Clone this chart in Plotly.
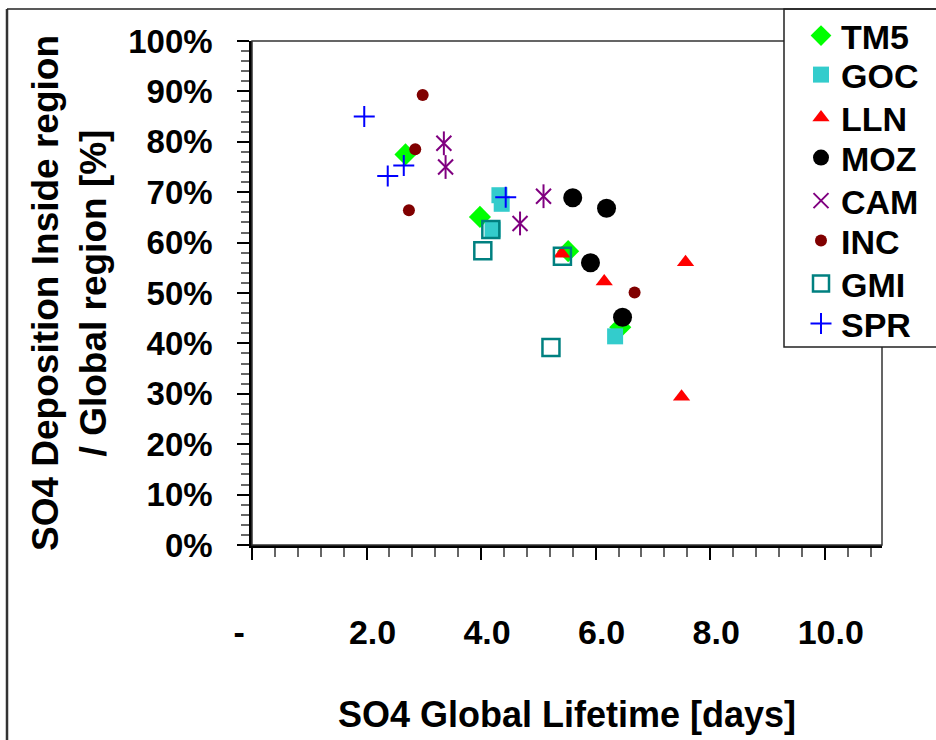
import plotly.graph_objects as go

# Model results: global SO4 lifetime [days] vs share of deposition inside the source region
series = ["TM5", "GOC", "LLN", "MOZ", "CAM", "INC", "GMI", "SPR"]

tm5_x = [2.68, 3.98, 5.52, 6.43]
tm5_y = [0.775, 0.651, 0.583, 0.432]
goc_x = [4.32, 4.36, 4.20, 6.34]
goc_y = [0.694, 0.677, 0.626, 0.414]
lln_x = [5.41, 6.15, 7.57, 7.50]
lln_y = [0.578, 0.523, 0.561, 0.294]
moz_x = [5.60, 6.19, 5.91, 6.47]
moz_y = [0.689, 0.668, 0.560, 0.452]
cam_x = [3.35, 3.38, 5.09, 4.68]
cam_y = [0.797, 0.750, 0.692, 0.638]
inc_x = [2.98, 2.85, 2.74, 6.68]
inc_y = [0.893, 0.785, 0.664, 0.501]
gmi_x = [4.17, 4.03, 5.42, 5.22]
gmi_y = [0.626, 0.584, 0.573, 0.392]
spr_x = [1.96, 2.65, 2.37, 4.43]
spr_y = [0.850, 0.753, 0.732, 0.690]

x_tickvals = [0, 2, 4, 6, 8, 10]
x_ticktext = ["-\u00a0\u00a0\u00a0\u00a0", "2.0", "4.0", "6.0", "8.0", "10.0"]

FONT = "Liberation Sans, Arial, sans-serif"

# figure geometry in pixels
W, H = 936, 740
PL, PR, PT, PB = 252, 882, 41, 545

# vertical centre (px) of each legend row
legend_rows = [36, 75, 118, 158, 201, 241, 284, 324]


def px_x(px):
    return (px - PL) / (PR - PL)


def px_y(py):
    return (PB - py) / (PB - PT)


def legend_id(i):
    return "legend" if i == 0 else f"legend{i + 1}"


fig = go.Figure()

fig.add_trace(go.Scatter(x=tm5_x, y=tm5_y, mode="markers", name="TM5", legend=legend_id(0),
                         marker=dict(symbol="diamond", size=17, color="#00FF00")))
fig.add_trace(go.Scatter(x=goc_x, y=goc_y, mode="markers", name="GOC", legend=legend_id(1),
                         marker=dict(symbol="square", size=16, color="#33CCCC")))
fig.add_trace(go.Scatter(x=lln_x, y=lln_y, mode="markers", name="LLN", legend=legend_id(2),
                         marker=dict(symbol="triangle-up", size=15, color="#FF0000")))
fig.add_trace(go.Scatter(x=moz_x, y=moz_y, mode="markers", name="MOZ", legend=legend_id(3),
                         marker=dict(symbol="circle", size=19, color="#000000")))
# CAM star: an X with a vertical bar through it
fig.add_trace(go.Scatter(x=cam_x, y=cam_y, mode="markers", name="CAM", legend=legend_id(4),
                         legendgroup="cam",
                         marker=dict(symbol="x-thin-open", size=15, color="#800080",
                                     line=dict(width=2, color="#800080"))))
fig.add_trace(go.Scatter(x=cam_x, y=cam_y, mode="markers", name="CAM", legend=legend_id(4),
                         legendgroup="cam", showlegend=False,
                         marker=dict(symbol="line-ns-open", size=17, color="#800080",
                                     line=dict(width=2, color="#800080"))))
fig.add_trace(go.Scatter(x=inc_x, y=inc_y, mode="markers", name="INC", legend=legend_id(5),
                         marker=dict(symbol="circle", size=12, color="#800000")))
fig.add_trace(go.Scatter(x=gmi_x, y=gmi_y, mode="markers", name="GMI", legend=legend_id(6),
                         marker=dict(symbol="square-open", size=17, color="#008080",
                                     line=dict(width=2.5, color="#008080"))))
fig.add_trace(go.Scatter(x=spr_x, y=spr_y, mode="markers", name="SPR", legend=legend_id(7),
                         marker=dict(symbol="cross-thin-open", size=15, color="#0000FF",
                                     line=dict(width=2, color="#0000FF"))))

shapes = [
    # plot area frame
    dict(type="rect", xref="paper", yref="paper", x0=0, x1=1, y0=0, y1=1,
         line=dict(color="#333333", width=1.5), layer="above"),
    # legend box
    dict(type="rect", xref="paper", yref="paper", x0=px_x(784), x1=px_x(950),
         y0=px_y(347), y1=px_y(9), fillcolor="white",
         line=dict(color="#222222", width=1.5), layer="above"),
    # outer chart border (left and top edges)
    dict(type="line", xref="paper", yref="paper", x0=px_x(7), x1=px_x(7),
         y0=px_y(9), y1=px_y(760), line=dict(color="#333333", width=2.5)),
    dict(type="line", xref="paper", yref="paper", x0=px_x(7), x1=px_x(950),
         y0=px_y(9), y1=px_y(9), line=dict(color="#222222", width=1.5)),
]

legend_layouts = {}
for i, row in enumerate(legend_rows):
    legend_layouts[legend_id(i)] = dict(
        x=px_x(801), xanchor="left", y=px_y(row), yanchor="middle",
        bgcolor="rgba(0,0,0,0)", borderwidth=0, itemsizing="trace",
        font=dict(family=FONT, size=34, color="black", weight="bold"),
    )

fig.update_layout(
    width=W, height=H,
    margin=dict(l=PL, r=W - PR, t=PT, b=H - PB, autoexpand=False),
    paper_bgcolor="white", plot_bgcolor="white",
    font=dict(family=FONT, size=34, color="black", weight="bold"),
    showlegend=True,
    shapes=shapes,
    xaxis=dict(
        range=[0, 11], tickmode="array", tickvals=x_tickvals, ticktext=x_ticktext,
        showgrid=False, zeroline=False, showline=True, linecolor="black", linewidth=2.5,
        ticks="outside", ticklen=12, tickwidth=2, tickcolor="black",
        ticklabelstandoff=43, ticklabelshift=6,
        tickfont=dict(family=FONT, size=34, color="black", weight="bold"),
        minor=dict(dtick=0.4, tick0=0, ticks="outside", ticklen=9, tickwidth=2,
                   tickcolor="#666666", showgrid=False),
        title=dict(text="SO4 Global Lifetime [days]", standoff=53,
                   font=dict(family=FONT, size=36, color="black", weight="bold")),
    ),
    yaxis=dict(
        range=[0, 1], dtick=0.1, tick0=0, tickformat=".0%",
        showgrid=False, zeroline=False, showline=True, linecolor="black", linewidth=2.5,
        ticks="outside", ticklen=12, tickwidth=2, tickcolor="black",
        ticklabelstandoff=18,
        tickfont=dict(family=FONT, size=33, color="black", weight="bold"),
        minor=dict(dtick=0.02, tick0=0, ticks="outside", ticklen=8, tickwidth=2,
                   tickcolor="#666666", showgrid=False),
        title=dict(text="SO4 Deposition Inside region<br>/ Global region [%]", standoff=11,
                   font=dict(family=FONT, size=37, color="black", weight="bold")),
    ),
    **legend_layouts,
)

fig.write_html("out.html")
